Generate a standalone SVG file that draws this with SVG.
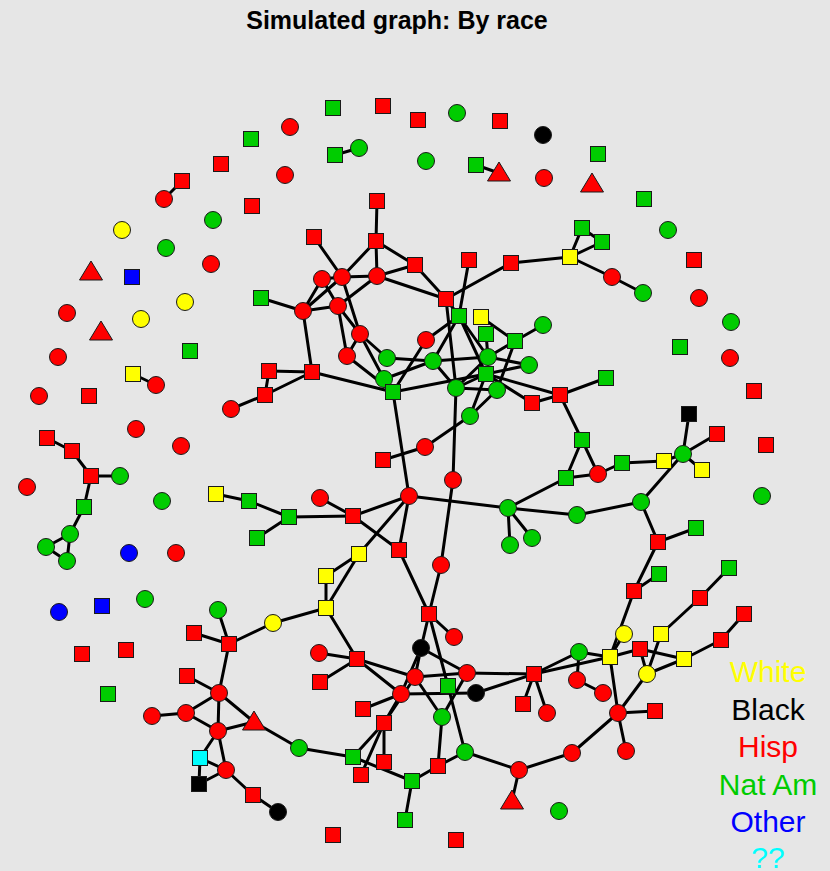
<svg xmlns="http://www.w3.org/2000/svg" width="830" height="871" viewBox="0 0 830 871">
<style>
.bg{fill:#e6e6e6}
.e line{stroke:#000;stroke-width:3;stroke-linecap:round}
.n circle,.n rect,.n polygon{stroke:#1a1a1a;stroke-width:1}
.r{fill:#ff0000}.g{fill:#00cc00}.y{fill:#ffff00}.k{fill:#000000}.b{fill:#0000ff}.c{fill:#00ffff}
.t{font-family:"Liberation Sans",Arial,sans-serif;font-weight:bold;font-size:25px;fill:#000}
.l{font-family:"Liberation Sans",Arial,sans-serif;font-size:30px;text-anchor:middle}
</style>
<rect class="bg" x="0" y="0" width="830" height="871"/>
<text class="t" x="397" y="29" text-anchor="middle">Simulated graph: By race</text>
<g id="edges" class="e">
<line x1="335" y1="155" x2="359" y2="148"/>
<line x1="476" y1="165" x2="499" y2="173"/>
<line x1="182" y1="181" x2="164" y2="199"/>
<line x1="133" y1="374" x2="156" y2="385"/>
<line x1="47" y1="438" x2="72" y2="451"/>
<line x1="72" y1="451" x2="91" y2="476"/>
<line x1="91" y1="476" x2="120" y2="476"/>
<line x1="91" y1="476" x2="84" y2="507"/>
<line x1="84" y1="507" x2="70" y2="534"/>
<line x1="70" y1="534" x2="46" y2="547"/>
<line x1="70" y1="534" x2="67" y2="561"/>
<line x1="46" y1="547" x2="67" y2="561"/>
<line x1="216" y1="494" x2="249" y2="501"/>
<line x1="249" y1="501" x2="289" y2="517"/>
<line x1="257" y1="538" x2="289" y2="517"/>
<line x1="377" y1="201" x2="376" y2="241"/>
<line x1="314" y1="237" x2="342" y2="277"/>
<line x1="376" y1="241" x2="342" y2="277"/>
<line x1="376" y1="241" x2="377" y2="276"/>
<line x1="376" y1="241" x2="415" y2="265"/>
<line x1="377" y1="276" x2="415" y2="265"/>
<line x1="377" y1="276" x2="446" y2="299"/>
<line x1="415" y1="265" x2="446" y2="299"/>
<line x1="511" y1="263" x2="446" y2="299"/>
<line x1="511" y1="263" x2="570" y2="257"/>
<line x1="570" y1="257" x2="582" y2="228"/>
<line x1="570" y1="257" x2="602" y2="242"/>
<line x1="582" y1="228" x2="602" y2="242"/>
<line x1="570" y1="257" x2="612" y2="277"/>
<line x1="612" y1="277" x2="643" y2="293"/>
<line x1="469" y1="260" x2="459" y2="316"/>
<line x1="322" y1="279" x2="342" y2="277"/>
<line x1="342" y1="277" x2="377" y2="276"/>
<line x1="303" y1="311" x2="322" y2="279"/>
<line x1="303" y1="311" x2="342" y2="277"/>
<line x1="303" y1="311" x2="338" y2="306"/>
<line x1="338" y1="306" x2="377" y2="276"/>
<line x1="322" y1="279" x2="338" y2="306"/>
<line x1="342" y1="277" x2="360" y2="334"/>
<line x1="338" y1="306" x2="360" y2="334"/>
<line x1="303" y1="311" x2="261" y2="298"/>
<line x1="303" y1="311" x2="312" y2="372"/>
<line x1="338" y1="306" x2="347" y2="356"/>
<line x1="360" y1="334" x2="347" y2="356"/>
<line x1="360" y1="334" x2="387" y2="358"/>
<line x1="360" y1="334" x2="384" y2="379"/>
<line x1="347" y1="356" x2="393" y2="392"/>
<line x1="384" y1="379" x2="393" y2="392"/>
<line x1="312" y1="372" x2="269" y2="371"/>
<line x1="312" y1="372" x2="265" y2="395"/>
<line x1="269" y1="371" x2="265" y2="395"/>
<line x1="265" y1="395" x2="231" y2="409"/>
<line x1="312" y1="372" x2="393" y2="392"/>
<line x1="426" y1="340" x2="393" y2="392"/>
<line x1="426" y1="340" x2="459" y2="316"/>
<line x1="446" y1="299" x2="459" y2="316"/>
<line x1="446" y1="299" x2="456" y2="388"/>
<line x1="459" y1="316" x2="433" y2="361"/>
<line x1="459" y1="316" x2="488" y2="357"/>
<line x1="459" y1="316" x2="486" y2="374"/>
<line x1="481" y1="317" x2="515" y2="341"/>
<line x1="486" y1="334" x2="488" y2="357"/>
<line x1="515" y1="341" x2="543" y2="325"/>
<line x1="515" y1="341" x2="488" y2="357"/>
<line x1="515" y1="341" x2="497" y2="390"/>
<line x1="488" y1="357" x2="529" y2="365"/>
<line x1="488" y1="357" x2="433" y2="361"/>
<line x1="488" y1="357" x2="456" y2="388"/>
<line x1="486" y1="374" x2="529" y2="365"/>
<line x1="486" y1="374" x2="456" y2="388"/>
<line x1="486" y1="374" x2="470" y2="416"/>
<line x1="497" y1="390" x2="470" y2="416"/>
<line x1="456" y1="388" x2="497" y2="390"/>
<line x1="486" y1="374" x2="532" y2="403"/>
<line x1="486" y1="374" x2="560" y2="395"/>
<line x1="532" y1="403" x2="560" y2="395"/>
<line x1="387" y1="358" x2="433" y2="361"/>
<line x1="384" y1="379" x2="433" y2="361"/>
<line x1="393" y1="392" x2="486" y2="374"/>
<line x1="433" y1="361" x2="456" y2="388"/>
<line x1="456" y1="388" x2="453" y2="480"/>
<line x1="470" y1="416" x2="425" y2="447"/>
<line x1="425" y1="447" x2="383" y2="460"/>
<line x1="393" y1="392" x2="409" y2="496"/>
<line x1="453" y1="480" x2="441" y2="565"/>
<line x1="409" y1="496" x2="508" y2="508"/>
<line x1="409" y1="496" x2="353" y2="516"/>
<line x1="409" y1="496" x2="399" y2="550"/>
<line x1="409" y1="496" x2="359" y2="554"/>
<line x1="353" y1="516" x2="320" y2="498"/>
<line x1="353" y1="516" x2="289" y2="517"/>
<line x1="353" y1="516" x2="399" y2="550"/>
<line x1="359" y1="554" x2="326" y2="576"/>
<line x1="326" y1="576" x2="326" y2="608"/>
<line x1="359" y1="554" x2="326" y2="608"/>
<line x1="326" y1="608" x2="273" y2="623"/>
<line x1="326" y1="608" x2="357" y2="659"/>
<line x1="508" y1="508" x2="566" y2="478"/>
<line x1="508" y1="508" x2="577" y2="515"/>
<line x1="508" y1="508" x2="510" y2="545"/>
<line x1="508" y1="508" x2="532" y2="538"/>
<line x1="399" y1="550" x2="429" y2="614"/>
<line x1="441" y1="565" x2="429" y2="614"/>
<line x1="560" y1="395" x2="606" y2="378"/>
<line x1="560" y1="395" x2="582" y2="440"/>
<line x1="582" y1="440" x2="566" y2="478"/>
<line x1="582" y1="440" x2="598" y2="474"/>
<line x1="566" y1="478" x2="598" y2="474"/>
<line x1="598" y1="474" x2="622" y2="463"/>
<line x1="622" y1="463" x2="664" y2="461"/>
<line x1="664" y1="461" x2="683" y2="454"/>
<line x1="683" y1="454" x2="689" y2="414"/>
<line x1="683" y1="454" x2="717" y2="434"/>
<line x1="683" y1="454" x2="702" y2="470"/>
<line x1="683" y1="454" x2="641" y2="502"/>
<line x1="641" y1="502" x2="577" y2="515"/>
<line x1="641" y1="502" x2="658" y2="542"/>
<line x1="658" y1="542" x2="696" y2="528"/>
<line x1="658" y1="542" x2="634" y2="591"/>
<line x1="634" y1="591" x2="659" y2="574"/>
<line x1="729" y1="568" x2="700" y2="598"/>
<line x1="700" y1="598" x2="661" y2="634"/>
<line x1="744" y1="614" x2="721" y2="640"/>
<line x1="721" y1="640" x2="684" y2="659"/>
<line x1="684" y1="659" x2="647" y2="674"/>
<line x1="661" y1="634" x2="647" y2="674"/>
<line x1="610" y1="657" x2="640" y2="649"/>
<line x1="640" y1="649" x2="684" y2="659"/>
<line x1="640" y1="649" x2="647" y2="674"/>
<line x1="579" y1="652" x2="610" y2="657"/>
<line x1="610" y1="657" x2="624" y2="634"/>
<line x1="610" y1="657" x2="618" y2="713"/>
<line x1="647" y1="674" x2="618" y2="713"/>
<line x1="634" y1="591" x2="610" y2="657"/>
<line x1="618" y1="713" x2="655" y2="711"/>
<line x1="618" y1="713" x2="626" y2="751"/>
<line x1="618" y1="713" x2="572" y2="753"/>
<line x1="572" y1="753" x2="519" y2="770"/>
<line x1="579" y1="652" x2="577" y2="680"/>
<line x1="577" y1="680" x2="603" y2="693"/>
<line x1="534" y1="674" x2="579" y2="652"/>
<line x1="534" y1="674" x2="610" y2="657"/>
<line x1="429" y1="614" x2="454" y2="637"/>
<line x1="429" y1="614" x2="421" y2="648"/>
<line x1="429" y1="614" x2="448" y2="686"/>
<line x1="421" y1="648" x2="415" y2="677"/>
<line x1="421" y1="648" x2="401" y2="694"/>
<line x1="421" y1="648" x2="467" y2="673"/>
<line x1="415" y1="677" x2="467" y2="673"/>
<line x1="467" y1="673" x2="534" y2="674"/>
<line x1="401" y1="694" x2="476" y2="693"/>
<line x1="476" y1="693" x2="534" y2="674"/>
<line x1="534" y1="674" x2="523" y2="704"/>
<line x1="534" y1="674" x2="547" y2="713"/>
<line x1="357" y1="659" x2="319" y2="653"/>
<line x1="357" y1="659" x2="320" y2="682"/>
<line x1="357" y1="659" x2="415" y2="677"/>
<line x1="357" y1="659" x2="401" y2="694"/>
<line x1="401" y1="694" x2="363" y2="709"/>
<line x1="401" y1="694" x2="384" y2="723"/>
<line x1="415" y1="677" x2="384" y2="723"/>
<line x1="384" y1="723" x2="353" y2="757"/>
<line x1="384" y1="723" x2="384" y2="762"/>
<line x1="384" y1="723" x2="361" y2="775"/>
<line x1="415" y1="677" x2="442" y2="717"/>
<line x1="467" y1="673" x2="442" y2="717"/>
<line x1="442" y1="717" x2="438" y2="766"/>
<line x1="299" y1="748" x2="353" y2="757"/>
<line x1="353" y1="757" x2="412" y2="781"/>
<line x1="412" y1="781" x2="438" y2="766"/>
<line x1="412" y1="781" x2="405" y2="820"/>
<line x1="438" y1="766" x2="465" y2="752"/>
<line x1="465" y1="752" x2="448" y2="686"/>
<line x1="465" y1="752" x2="519" y2="770"/>
<line x1="519" y1="770" x2="512" y2="801"/>
<line x1="299" y1="748" x2="254" y2="722"/>
<line x1="218" y1="610" x2="229" y2="644"/>
<line x1="194" y1="633" x2="229" y2="644"/>
<line x1="229" y1="644" x2="273" y2="623"/>
<line x1="229" y1="644" x2="219" y2="693"/>
<line x1="187" y1="676" x2="219" y2="693"/>
<line x1="219" y1="693" x2="186" y2="713"/>
<line x1="186" y1="713" x2="152" y2="716"/>
<line x1="219" y1="693" x2="218" y2="731"/>
<line x1="219" y1="693" x2="254" y2="722"/>
<line x1="186" y1="713" x2="218" y2="731"/>
<line x1="218" y1="731" x2="254" y2="722"/>
<line x1="218" y1="731" x2="200" y2="758"/>
<line x1="218" y1="731" x2="226" y2="770"/>
<line x1="200" y1="758" x2="199" y2="784"/>
<line x1="200" y1="758" x2="226" y2="770"/>
<line x1="199" y1="784" x2="226" y2="770"/>
<line x1="226" y1="770" x2="253" y2="795"/>
<line x1="253" y1="795" x2="278" y2="812"/>
</g>
<g class="n">
<g id="n1"><circle class="r" cx="290" cy="127" r="8.5"/></g>
<g id="n2"><rect class="g" x="325.5" y="100.5" width="15" height="15"/></g>
<g id="n3"><rect class="r" x="375.5" y="98.5" width="15" height="15"/></g>
<g id="n4"><rect class="r" x="410.5" y="112.5" width="15" height="15"/></g>
<g id="n5"><circle class="g" cx="457" cy="113" r="8.5"/></g>
<g id="n6"><rect class="r" x="492.5" y="113.5" width="15" height="15"/></g>
<g id="n7"><circle class="k" cx="543" cy="135" r="8.5"/></g>
<g id="n8"><rect class="g" x="243.5" y="131.5" width="15" height="15"/></g>
<g id="n9"><rect class="r" x="213.5" y="156.5" width="15" height="15"/></g>
<g id="n10"><circle class="r" cx="285" cy="175" r="8.5"/></g>
<g id="n11"><rect class="g" x="327.5" y="147.5" width="15" height="15"/></g>
<g id="n12"><circle class="g" cx="359" cy="148" r="8.5"/></g>
<g id="n13"><circle class="g" cx="426" cy="161" r="8.5"/></g>
<g id="n14"><rect class="g" x="468.5" y="157.5" width="15" height="15"/></g>
<g id="n15"><polygon class="r" points="499,162 487.5,181 510.5,181"/></g>
<g id="n16"><circle class="r" cx="544" cy="178" r="8.5"/></g>
<g id="n17"><rect class="g" x="590.5" y="146.5" width="15" height="15"/></g>
<g id="n18"><polygon class="r" points="592,173 580.5,192 603.5,192"/></g>
<g id="n19"><rect class="r" x="174.5" y="173.5" width="15" height="15"/></g>
<g id="n20"><circle class="r" cx="164" cy="199" r="8.5"/></g>
<g id="n21"><rect class="r" x="244.5" y="198.5" width="15" height="15"/></g>
<g id="n22"><rect class="g" x="636.5" y="191.5" width="15" height="15"/></g>
<g id="n23"><circle class="g" cx="213" cy="220" r="8.5"/></g>
<g id="n24"><circle class="y" cx="122" cy="230" r="8.5"/></g>
<g id="n25"><circle class="g" cx="668" cy="230" r="8.5"/></g>
<g id="n26"><circle class="g" cx="166" cy="248" r="8.5"/></g>
<g id="n27"><circle class="r" cx="211" cy="264" r="8.5"/></g>
<g id="n28"><polygon class="r" points="91,261 79.5,280 102.5,280"/></g>
<g id="n29"><rect class="b" x="124.5" y="269.5" width="15" height="15"/></g>
<g id="n30"><rect class="r" x="686.5" y="252.5" width="15" height="15"/></g>
<g id="n31"><rect class="g" x="253.5" y="290.5" width="15" height="15"/></g>
<g id="n32"><circle class="y" cx="185" cy="302" r="8.5"/></g>
<g id="n33"><circle class="r" cx="67" cy="313" r="8.5"/></g>
<g id="n34"><circle class="y" cx="141" cy="319" r="8.5"/></g>
<g id="n35"><polygon class="r" points="101,321 89.5,340 112.5,340"/></g>
<g id="n36"><circle class="r" cx="699" cy="298" r="8.5"/></g>
<g id="n37"><circle class="g" cx="731" cy="322" r="8.5"/></g>
<g id="n38"><rect class="g" x="182.5" y="343.5" width="15" height="15"/></g>
<g id="n39"><circle class="r" cx="58" cy="357" r="8.5"/></g>
<g id="n40"><rect class="y" x="125.5" y="366.5" width="15" height="15"/></g>
<g id="n41"><circle class="r" cx="156" cy="385" r="8.5"/></g>
<g id="n42"><rect class="g" x="672.5" y="339.5" width="15" height="15"/></g>
<g id="n43"><circle class="r" cx="730" cy="358" r="8.5"/></g>
<g id="n44"><circle class="r" cx="39" cy="396" r="8.5"/></g>
<g id="n45"><rect class="r" x="81.5" y="388.5" width="15" height="15"/></g>
<g id="n46"><rect class="r" x="746.5" y="383.5" width="15" height="15"/></g>
<g id="n47"><circle class="r" cx="136" cy="429" r="8.5"/></g>
<g id="n48"><circle class="r" cx="181" cy="446" r="8.5"/></g>
<g id="n49"><rect class="r" x="39.5" y="430.5" width="15" height="15"/></g>
<g id="n50"><rect class="r" x="64.5" y="443.5" width="15" height="15"/></g>
<g id="n51"><rect class="r" x="83.5" y="468.5" width="15" height="15"/></g>
<g id="n52"><circle class="g" cx="120" cy="476" r="8.5"/></g>
<g id="n53"><circle class="r" cx="27" cy="487" r="8.5"/></g>
<g id="n54"><rect class="g" x="76.5" y="499.5" width="15" height="15"/></g>
<g id="n55"><circle class="g" cx="162" cy="501" r="8.5"/></g>
<g id="n56"><circle class="g" cx="70" cy="534" r="8.5"/></g>
<g id="n57"><circle class="g" cx="46" cy="547" r="8.5"/></g>
<g id="n58"><circle class="g" cx="67" cy="561" r="8.5"/></g>
<g id="n59"><circle class="b" cx="129" cy="553" r="8.5"/></g>
<g id="n60"><circle class="r" cx="176" cy="553" r="8.5"/></g>
<g id="n61"><circle class="b" cx="59" cy="612" r="8.5"/></g>
<g id="n62"><rect class="b" x="94.5" y="598.5" width="15" height="15"/></g>
<g id="n63"><circle class="g" cx="145" cy="599" r="8.5"/></g>
<g id="n64"><rect class="r" x="74.5" y="646.5" width="15" height="15"/></g>
<g id="n65"><rect class="r" x="118.5" y="642.5" width="15" height="15"/></g>
<g id="n66"><rect class="g" x="100.5" y="686.5" width="15" height="15"/></g>
<g id="n67"><rect class="r" x="758.5" y="437.5" width="15" height="15"/></g>
<g id="n68"><circle class="g" cx="762" cy="496" r="8.5"/></g>
<g id="n69"><rect class="r" x="369.5" y="193.5" width="15" height="15"/></g>
<g id="n70"><rect class="r" x="306.5" y="229.5" width="15" height="15"/></g>
<g id="n71"><rect class="r" x="368.5" y="233.5" width="15" height="15"/></g>
<g id="n72"><rect class="r" x="407.5" y="257.5" width="15" height="15"/></g>
<g id="n73"><rect class="r" x="461.5" y="252.5" width="15" height="15"/></g>
<g id="n74"><rect class="r" x="503.5" y="255.5" width="15" height="15"/></g>
<g id="n75"><rect class="y" x="562.5" y="249.5" width="15" height="15"/></g>
<g id="n76"><rect class="g" x="574.5" y="220.5" width="15" height="15"/></g>
<g id="n77"><rect class="g" x="594.5" y="234.5" width="15" height="15"/></g>
<g id="n78"><circle class="r" cx="612" cy="277" r="8.5"/></g>
<g id="n79"><circle class="g" cx="643" cy="293" r="8.5"/></g>
<g id="n80"><circle class="r" cx="322" cy="279" r="8.5"/></g>
<g id="n81"><circle class="r" cx="342" cy="277" r="8.5"/></g>
<g id="n82"><circle class="r" cx="377" cy="276" r="8.5"/></g>
<g id="n83"><rect class="r" x="438.5" y="291.5" width="15" height="15"/></g>
<g id="n84"><circle class="r" cx="303" cy="311" r="8.5"/></g>
<g id="n85"><circle class="r" cx="338" cy="306" r="8.5"/></g>
<g id="n86"><circle class="r" cx="360" cy="334" r="8.5"/></g>
<g id="n87"><circle class="r" cx="347" cy="356" r="8.5"/></g>
<g id="n88"><rect class="g" x="451.5" y="308.5" width="15" height="15"/></g>
<g id="n89"><rect class="y" x="473.5" y="309.5" width="15" height="15"/></g>
<g id="n90"><rect class="g" x="478.5" y="326.5" width="15" height="15"/></g>
<g id="n91"><rect class="g" x="507.5" y="333.5" width="15" height="15"/></g>
<g id="n92"><circle class="g" cx="543" cy="325" r="8.5"/></g>
<g id="n93"><circle class="r" cx="426" cy="340" r="8.5"/></g>
<g id="n94"><circle class="g" cx="387" cy="358" r="8.5"/></g>
<g id="n95"><circle class="g" cx="433" cy="361" r="8.5"/></g>
<g id="n96"><circle class="g" cx="488" cy="357" r="8.5"/></g>
<g id="n97"><circle class="g" cx="529" cy="365" r="8.5"/></g>
<g id="n98"><circle class="g" cx="384" cy="379" r="8.5"/></g>
<g id="n99"><rect class="g" x="385.5" y="384.5" width="15" height="15"/></g>
<g id="n100"><rect class="g" x="478.5" y="366.5" width="15" height="15"/></g>
<g id="n101"><circle class="g" cx="456" cy="388" r="8.5"/></g>
<g id="n102"><circle class="g" cx="497" cy="390" r="8.5"/></g>
<g id="n103"><circle class="g" cx="470" cy="416" r="8.5"/></g>
<g id="n104"><rect class="r" x="524.5" y="395.5" width="15" height="15"/></g>
<g id="n105"><rect class="r" x="552.5" y="387.5" width="15" height="15"/></g>
<g id="n106"><rect class="g" x="598.5" y="370.5" width="15" height="15"/></g>
<g id="n107"><rect class="r" x="304.5" y="364.5" width="15" height="15"/></g>
<g id="n108"><rect class="r" x="261.5" y="363.5" width="15" height="15"/></g>
<g id="n109"><rect class="r" x="257.5" y="387.5" width="15" height="15"/></g>
<g id="n110"><circle class="r" cx="231" cy="409" r="8.5"/></g>
<g id="n111"><circle class="r" cx="425" cy="447" r="8.5"/></g>
<g id="n112"><rect class="r" x="375.5" y="452.5" width="15" height="15"/></g>
<g id="n113"><circle class="r" cx="453" cy="480" r="8.5"/></g>
<g id="n114"><circle class="r" cx="409" cy="496" r="8.5"/></g>
<g id="n115"><circle class="r" cx="320" cy="498" r="8.5"/></g>
<g id="n116"><rect class="r" x="345.5" y="508.5" width="15" height="15"/></g>
<g id="n117"><rect class="y" x="208.5" y="486.5" width="15" height="15"/></g>
<g id="n118"><rect class="g" x="241.5" y="493.5" width="15" height="15"/></g>
<g id="n119"><rect class="g" x="281.5" y="509.5" width="15" height="15"/></g>
<g id="n120"><rect class="g" x="249.5" y="530.5" width="15" height="15"/></g>
<g id="n121"><circle class="g" cx="508" cy="508" r="8.5"/></g>
<g id="n122"><circle class="g" cx="510" cy="545" r="8.5"/></g>
<g id="n123"><circle class="g" cx="532" cy="538" r="8.5"/></g>
<g id="n124"><rect class="r" x="391.5" y="542.5" width="15" height="15"/></g>
<g id="n125"><rect class="y" x="351.5" y="546.5" width="15" height="15"/></g>
<g id="n126"><rect class="y" x="318.5" y="568.5" width="15" height="15"/></g>
<g id="n127"><rect class="y" x="318.5" y="600.5" width="15" height="15"/></g>
<g id="n128"><circle class="r" cx="441" cy="565" r="8.5"/></g>
<g id="n129"><rect class="g" x="574.5" y="432.5" width="15" height="15"/></g>
<g id="n130"><rect class="g" x="558.5" y="470.5" width="15" height="15"/></g>
<g id="n131"><circle class="r" cx="598" cy="474" r="8.5"/></g>
<g id="n132"><rect class="g" x="614.5" y="455.5" width="15" height="15"/></g>
<g id="n133"><rect class="y" x="656.5" y="453.5" width="15" height="15"/></g>
<g id="n134"><circle class="g" cx="683" cy="454" r="8.5"/></g>
<g id="n135"><rect class="k" x="681.5" y="406.5" width="15" height="15"/></g>
<g id="n136"><rect class="r" x="709.5" y="426.5" width="15" height="15"/></g>
<g id="n137"><rect class="y" x="694.5" y="462.5" width="15" height="15"/></g>
<g id="n138"><circle class="g" cx="641" cy="502" r="8.5"/></g>
<g id="n139"><circle class="g" cx="577" cy="515" r="8.5"/></g>
<g id="n140"><rect class="r" x="650.5" y="534.5" width="15" height="15"/></g>
<g id="n141"><rect class="g" x="688.5" y="520.5" width="15" height="15"/></g>
<g id="n142"><rect class="g" x="651.5" y="566.5" width="15" height="15"/></g>
<g id="n143"><rect class="r" x="626.5" y="583.5" width="15" height="15"/></g>
<g id="n144"><rect class="g" x="721.5" y="560.5" width="15" height="15"/></g>
<g id="n145"><rect class="r" x="692.5" y="590.5" width="15" height="15"/></g>
<g id="n146"><rect class="r" x="736.5" y="606.5" width="15" height="15"/></g>
<g id="n147"><circle class="y" cx="624" cy="634" r="8.5"/></g>
<g id="n148"><rect class="y" x="653.5" y="626.5" width="15" height="15"/></g>
<g id="n149"><circle class="g" cx="579" cy="652" r="8.5"/></g>
<g id="n150"><rect class="y" x="602.5" y="649.5" width="15" height="15"/></g>
<g id="n151"><rect class="r" x="632.5" y="641.5" width="15" height="15"/></g>
<g id="n152"><rect class="r" x="713.5" y="632.5" width="15" height="15"/></g>
<g id="n153"><rect class="y" x="676.5" y="651.5" width="15" height="15"/></g>
<g id="n154"><circle class="y" cx="647" cy="674" r="8.5"/></g>
<g id="n155"><circle class="r" cx="577" cy="680" r="8.5"/></g>
<g id="n156"><circle class="r" cx="603" cy="693" r="8.5"/></g>
<g id="n157"><circle class="r" cx="618" cy="713" r="8.5"/></g>
<g id="n158"><rect class="r" x="647.5" y="703.5" width="15" height="15"/></g>
<g id="n159"><circle class="r" cx="572" cy="753" r="8.5"/></g>
<g id="n160"><circle class="r" cx="626" cy="751" r="8.5"/></g>
<g id="n161"><circle class="g" cx="559" cy="811" r="8.5"/></g>
<g id="n162"><rect class="r" x="421.5" y="606.5" width="15" height="15"/></g>
<g id="n163"><circle class="r" cx="454" cy="637" r="8.5"/></g>
<g id="n164"><circle class="k" cx="421" cy="648" r="8.5"/></g>
<g id="n165"><circle class="r" cx="319" cy="653" r="8.5"/></g>
<g id="n166"><rect class="r" x="349.5" y="651.5" width="15" height="15"/></g>
<g id="n167"><rect class="r" x="312.5" y="674.5" width="15" height="15"/></g>
<g id="n168"><circle class="r" cx="415" cy="677" r="8.5"/></g>
<g id="n169"><circle class="r" cx="467" cy="673" r="8.5"/></g>
<g id="n170"><rect class="r" x="526.5" y="666.5" width="15" height="15"/></g>
<g id="n171"><rect class="g" x="440.5" y="678.5" width="15" height="15"/></g>
<g id="n172"><circle class="k" cx="476" cy="693" r="8.5"/></g>
<g id="n173"><circle class="r" cx="401" cy="694" r="8.5"/></g>
<g id="n174"><rect class="r" x="355.5" y="701.5" width="15" height="15"/></g>
<g id="n175"><rect class="r" x="376.5" y="715.5" width="15" height="15"/></g>
<g id="n176"><circle class="g" cx="442" cy="717" r="8.5"/></g>
<g id="n177"><rect class="r" x="515.5" y="696.5" width="15" height="15"/></g>
<g id="n178"><circle class="r" cx="547" cy="713" r="8.5"/></g>
<g id="n179"><circle class="g" cx="299" cy="748" r="8.5"/></g>
<g id="n180"><rect class="g" x="345.5" y="749.5" width="15" height="15"/></g>
<g id="n181"><rect class="r" x="376.5" y="754.5" width="15" height="15"/></g>
<g id="n182"><rect class="r" x="353.5" y="767.5" width="15" height="15"/></g>
<g id="n183"><rect class="r" x="430.5" y="758.5" width="15" height="15"/></g>
<g id="n184"><circle class="g" cx="465" cy="752" r="8.5"/></g>
<g id="n185"><rect class="g" x="404.5" y="773.5" width="15" height="15"/></g>
<g id="n186"><circle class="r" cx="519" cy="770" r="8.5"/></g>
<g id="n187"><polygon class="r" points="512,790 500.5,809 523.5,809"/></g>
<g id="n188"><rect class="g" x="397.5" y="812.5" width="15" height="15"/></g>
<g id="n189"><rect class="r" x="325.5" y="827.5" width="15" height="15"/></g>
<g id="n190"><rect class="r" x="448.5" y="832.5" width="15" height="15"/></g>
<g id="n191"><circle class="k" cx="278" cy="812" r="8.5"/></g>
<g id="n192"><circle class="g" cx="218" cy="610" r="8.5"/></g>
<g id="n193"><circle class="y" cx="273" cy="623" r="8.5"/></g>
<g id="n194"><rect class="r" x="186.5" y="625.5" width="15" height="15"/></g>
<g id="n195"><rect class="r" x="221.5" y="636.5" width="15" height="15"/></g>
<g id="n196"><rect class="r" x="179.5" y="668.5" width="15" height="15"/></g>
<g id="n197"><circle class="r" cx="219" cy="693" r="8.5"/></g>
<g id="n198"><circle class="r" cx="152" cy="716" r="8.5"/></g>
<g id="n199"><circle class="r" cx="186" cy="713" r="8.5"/></g>
<g id="n200"><polygon class="r" points="254,711 242.5,730 265.5,730"/></g>
<g id="n201"><circle class="r" cx="218" cy="731" r="8.5"/></g>
<g id="n202"><rect class="c" x="192.5" y="750.5" width="15" height="15"/></g>
<g id="n203"><circle class="r" cx="226" cy="770" r="8.5"/></g>
<g id="n204"><rect class="k" x="191.5" y="776.5" width="15" height="15"/></g>
<g id="n205"><rect class="r" x="245.5" y="787.5" width="15" height="15"/></g>
</g>
<g id="legend">
<text class="l" x="768" y="682" fill="#ffff00">White</text>
<text class="l" x="768" y="719.5" fill="#000000">Black</text>
<text class="l" x="768" y="757" fill="#ff0000">Hisp</text>
<text class="l" x="768" y="794.5" fill="#00cc00">Nat Am</text>
<text class="l" x="768" y="832" fill="#0000ff">Other</text>
<text class="l" x="768" y="868" fill="#00ffff">??</text>
</g>
</svg>
